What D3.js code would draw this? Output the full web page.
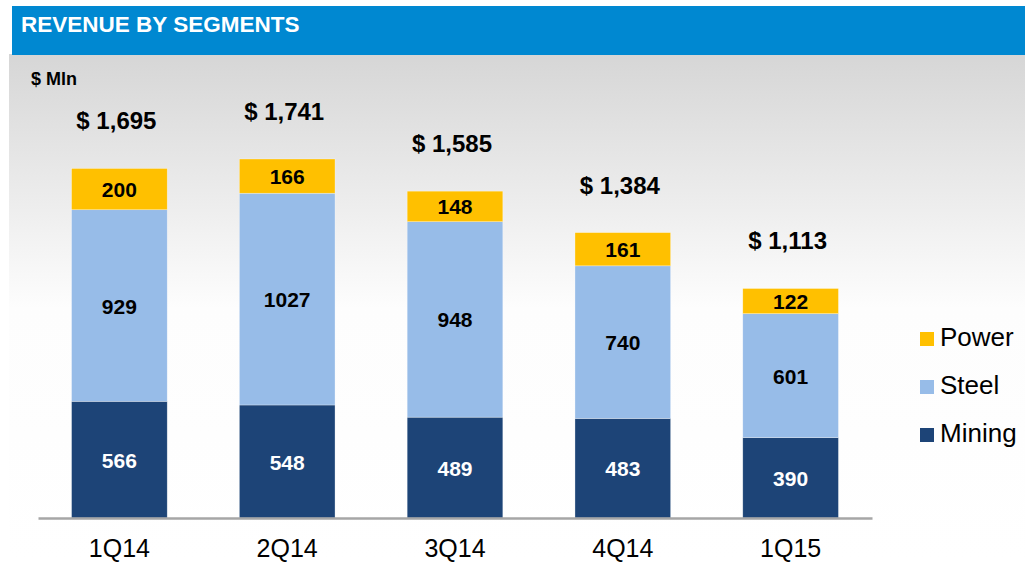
<!DOCTYPE html>
<html>
<head>
<meta charset="utf-8">
<script src="https://cdn.jsdelivr.net/npm/d3@7"></script>
<style>
  body { margin: 0; background: #fff; }
  svg { display: block; font-family: "Liberation Sans", Arial, sans-serif; }
</style>
</head>
<body>
<svg id="chart" width="1025" height="562"></svg>
<script>
var quarters = ["1Q14", "2Q14", "3Q14", "4Q14", "1Q15"]
var mining = [566, 548, 489, 483, 390]
var steel = [929, 1027, 948, 740, 601]
var power = [200, 166, 148, 161, 122]
var totals = ["$ 1,695", "$ 1,741", "$ 1,585", "$ 1,384", "$ 1,113"]
var segments = ["Mining", "Steel", "Power"]
var legendOrder = ["Power", "Steel", "Mining"]

var colors = { Mining: "#1d4477", Steel: "#97bce8", Power: "#ffc000" }
var textColors = { Mining: "#fff", Steel: "#000", Power: "#000" }

var svg = d3.select("#chart")

// background gradient
var defs = svg.append("defs")
var grad = defs.append("linearGradient").attr("id", "bg")
    .attr("x1", 0).attr("y1", 0).attr("x2", 0).attr("y2", 1)
grad.append("stop").attr("offset", "0%").attr("stop-color", "#d6d6d6")
grad.append("stop").attr("offset", "50%").attr("stop-color", "#fdfdfd")
grad.append("stop").attr("offset", "100%").attr("stop-color", "#ffffff")

svg.append("rect").attr("x", 9).attr("y", 54).attr("width", 1016).attr("height", 508)
    .attr("fill", "url(#bg)")

// header
svg.append("rect").attr("x", 12).attr("y", 6).attr("width", 1013).attr("height", 49)
    .attr("fill", "#0088d1")
svg.append("text").attr("x", 21).attr("y", 32)
    .attr("fill", "#fff").attr("font-weight", "bold").attr("font-size", 22.5)
    .text("REVENUE BY SEGMENTS")

svg.append("text").attr("x", 31).attr("y", 85)
    .attr("font-weight", "bold").attr("font-size", 18)
    .text("$ Mln")

var data = quarters.map(function (q, i) {
    return { q: q, Mining: mining[i], Steel: steel[i], Power: power[i], total: totals[i] }
})

var x = d3.scaleBand().domain(quarters).range([38, 872]).paddingInner(0.43).paddingOuter(0.2)
var y = d3.scaleLinear().domain([0, 1741]).range([518, 159])

var stack = d3.stack().keys(segments)(data)

var layer = svg.selectAll(".layer")
    .data(stack)
    .enter().append("g")
    .attr("class", "layer")

layer.selectAll("rect")
    .data(function (s) { return s.map(function (d) { d.key = s.key; return d }) })
    .enter().append("rect")
    .attr("x", function (d) { return x(d.data.q) })
    .attr("y", function (d) { return y(d[1]) })
    .attr("width", x.bandwidth())
    .attr("height", function (d) { return y(d[0]) - y(d[1]) })
    .attr("fill", function (d) { return colors[d.key] })
    .attr("stroke", "#fff").attr("stroke-width", 0.6).attr("stroke-opacity", 0.5)

layer.selectAll("text")
    .data(function (s) { return s })
    .enter().append("text")
    .attr("x", function (d) { return x(d.data.q) + x.bandwidth() / 2 })
    .attr("y", function (d) { return (y(d[0]) + y(d[1])) / 2 + 8 })
    .attr("text-anchor", "middle")
    .attr("font-weight", "bold").attr("font-size", 21)
    .attr("fill", function (d) { return textColors[d.key] })
    .text(function (d) { return d.data[d.key] })

// totals
svg.selectAll(".total")
    .data(data)
    .enter().append("text")
    .attr("class", "total")
    .attr("x", function (d) { return x(d.q) + x.bandwidth() / 2 - 3 })
    .attr("y", function (d) { return y(d.Mining + d.Steel + d.Power) - 39 })
    .attr("text-anchor", "middle")
    .attr("font-weight", "bold").attr("font-size", 24)
    .text(function (d) { return d.total })

// baseline axis
var axis = svg.append("g")
    .attr("transform", "translate(0,518)")
    .call(d3.axisBottom(x).tickSize(0).tickPadding(21))
axis.select(".domain").attr("stroke", "#a6a6a6").attr("stroke-width", 2.5)
axis.selectAll(".tick text")
    .attr("font-family", "Liberation Sans, Arial, sans-serif")
    .attr("font-size", 25).attr("fill", "#000")

// legend
var legend = svg.selectAll(".legend")
    .data(legendOrder)
    .enter().append("g")
    .attr("class", "legend")
    .attr("transform", function (d, i) { return "translate(920," + (332 + i * 48) + ")" })

legend.append("rect").attr("width", 14).attr("height", 14)
    .attr("fill", function (d) { return colors[d] })
legend.append("text").attr("x", 20).attr("y", 14)
    .attr("font-size", 26)
    .text(function (d) { return d })
</script>
</body>
</html>
